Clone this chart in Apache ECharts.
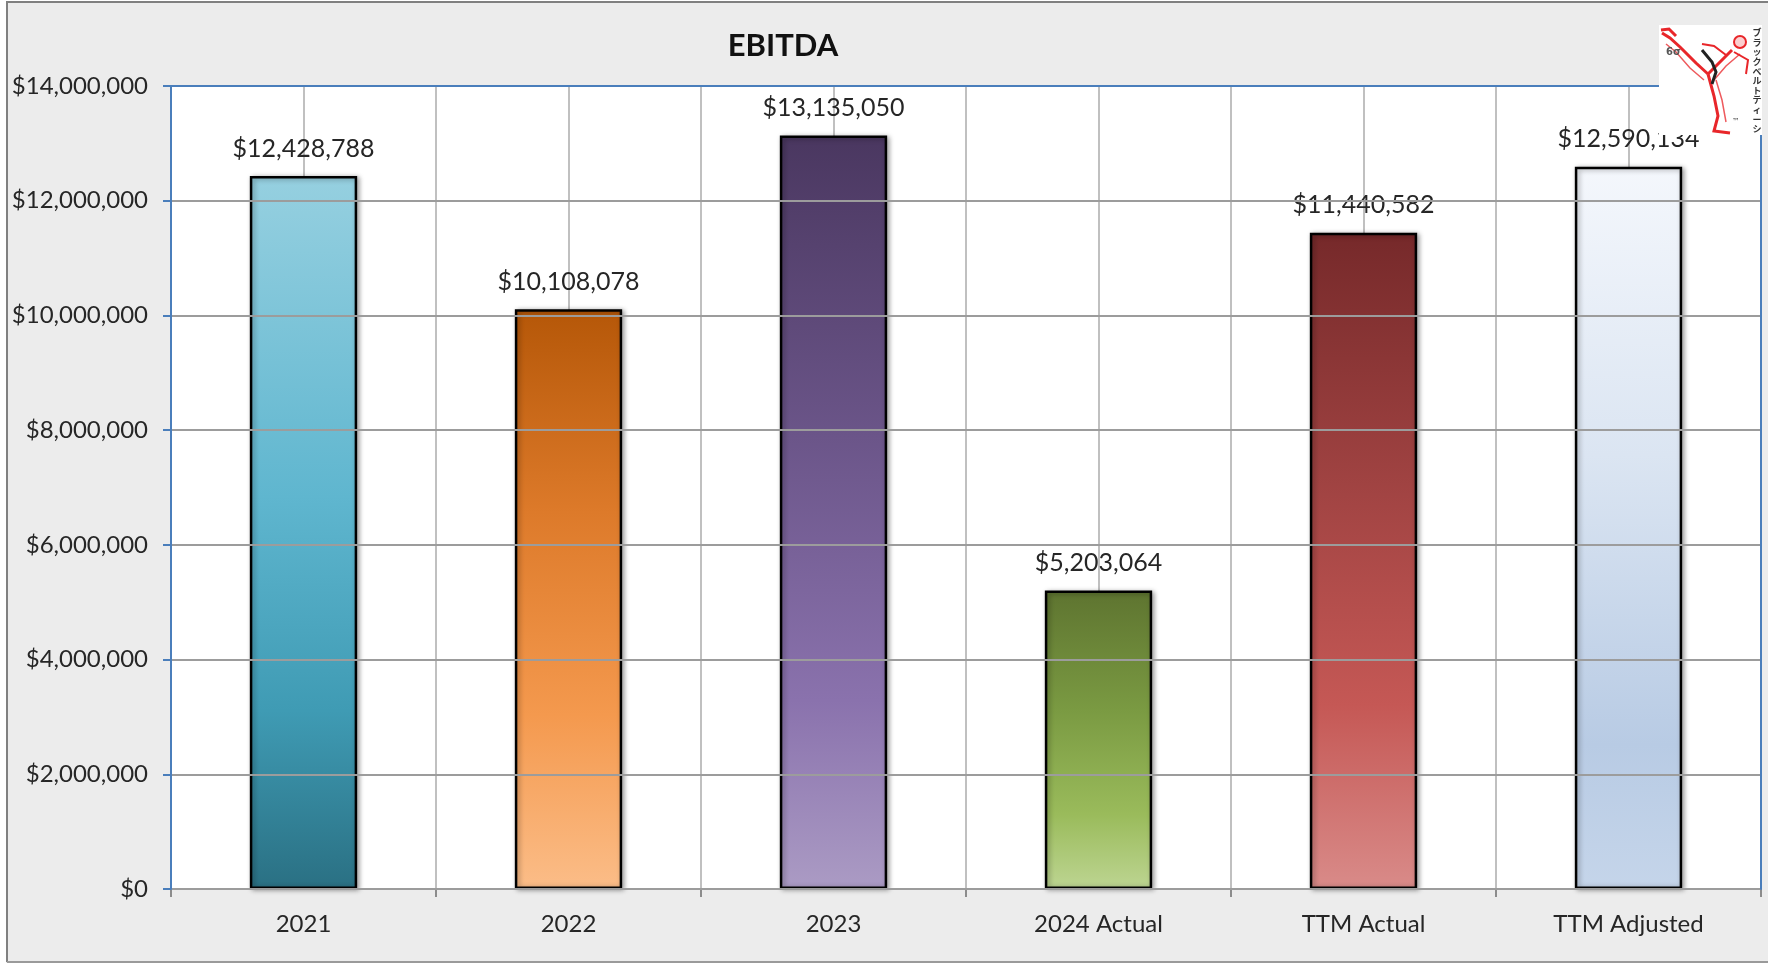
<!DOCTYPE html>
<html>
<head>
<meta charset="utf-8">
<script src="https://cdn.jsdelivr.net/npm/echarts@6/dist/echarts.min.js"></script>
<style>
html,body{margin:0;padding:0;background:#fff;}
#chart{width:1768px;height:966px;}
</style>
</head>
<body>
<div id="chart"></div>
<script>
// ---- data ----
const categories = ['2021', '2022', '2023', '2024 Actual', 'TTM Actual', 'TTM Adjusted'];
const ebitda = [12428788, 10108078, 13135050, 5203064, 11440582, 12590134];
const yMin = 0;
const yMax = 14000000;
const yStep = 2000000;
const chartTitle = 'EBITDA';
const logoText = 'ブラックベルトティーシ';

// ---- styles ----
const barGradients = [
  [['#96d0e0', 0], ['#5fb6cf', 0.45], ['#3f9bb4', 0.75], ['#2a7083', 1]],
  [['#b55708', 0], ['#dd7a2a', 0.35], ['#f4994e', 0.7], ['#fbbd88', 1]],
  [['#4a3760', 0], ['#6b5589', 0.4], ['#8a72ad', 0.75], ['#ab9bc4', 1]],
  [['#5e7430', 0], ['#7a9a42', 0.4], ['#9abb5b', 0.75], ['#bdd592', 1]],
  [['#76292a', 0], ['#a24443', 0.4], ['#c55855', 0.72], ['#d98b89', 1]],
  [['#f4f7fc', 0], ['#dbe5f2', 0.4], ['#b8cbe4', 0.8], ['#c5d5ea', 1]]
];
const FONT = 'Lato, "Open Sans", sans-serif';
const TEXT = '#262626';

function money(v) { return '$' + Math.round(v).toLocaleString('en-US'); }

const barData = ebitda.map((v, i) => ({
  value: v,
  itemStyle: {
    color: {
      type: 'linear', x: 0, y: 0, x2: 0, y2: 1,
      colorStops: barGradients[i].map(s => ({ color: s[0], offset: s[1] }))
    }
  }
}));

const chart = echarts.init(document.getElementById('chart'), null, { renderer: 'canvas' });

const katakana = logoText.split('').join('\n');

chart.setOption({
  animation: false,
  backgroundColor: '#ececec',
  title: {
    text: chartTitle,
    left: 778, top: 41,
    textAlign: 'center', textVerticalAlign: 'middle',
    textStyle: { fontFamily: FONT, fontWeight: 'bold', fontSize: 31, color: '#111' }
  },
  grid: {
    left: 171, right: 7, top: 86, bottom: 77,
    show: true, backgroundColor: '#ffffff',
    borderColor: '#4a7ebb', borderWidth: 2,
    containLabel: false
  },
  xAxis: [
    {
      type: 'category', data: categories, position: 'bottom', z: 4,
      axisLine: { show: true, lineStyle: { color: '#8c8c8c', width: 2 } },
      axisTick: { show: true, length: 8, lineStyle: { color: '#8c8c8c', width: 2 } },
      axisLabel: { margin: 23, fontFamily: FONT, fontSize: 24, color: TEXT },
      splitLine: { show: false }
    },
    {
      type: 'value', min: 0, max: categories.length, interval: 0.5, position: 'bottom', z: 1,
      axisLine: { show: false }, axisTick: { show: false }, axisLabel: { show: false },
      splitLine: { show: true, lineStyle: { color: '#c0c0c0', width: 2 } }
    },
    {
      type: 'category', data: categories, position: 'top', z: 5,
      axisLine: { show: true, lineStyle: { color: '#4a7ebb', width: 2 } },
      axisTick: { show: false }, axisLabel: { show: false }, splitLine: { show: false }
    }
  ],
  yAxis: [
    {
      type: 'value', min: yMin, max: yMax, interval: yStep, position: 'left', z: 5,
      axisLine: { show: true, lineStyle: { color: '#4a7ebb', width: 2 } },
      axisTick: { show: true, length: 8, lineStyle: { color: '#4a7ebb', width: 2 } },
      axisLabel: { margin: 23, fontFamily: FONT, fontSize: 24, color: TEXT, formatter: money },
      splitLine: { show: true, lineStyle: { color: '#9c9c9c', width: 2 } }
    },
    {
      type: 'value', min: yMin, max: yMax, interval: yStep, position: 'right', z: 5,
      axisLine: { show: true, lineStyle: { color: '#4a7ebb', width: 2 } },
      axisTick: { show: false }, axisLabel: { show: false }, splitLine: { show: false }
    }
  ],
  series: [{
    type: 'bar',
    xAxisIndex: 0, yAxisIndex: 0,
    data: barData,
    barWidth: '40.5%',
    z: 3,
    itemStyle: {
      borderColor: '#000', borderWidth: 2.5,
      shadowColor: 'rgba(0,0,0,0.35)', shadowBlur: 5, shadowOffsetX: 2, shadowOffsetY: 1
    },
    label: {
      show: true, position: 'top', distance: 15,
      fontFamily: FONT, fontSize: 25, color: TEXT,
      formatter: p => money(p.value)
    }
  }],
  graphic: [
    // outer frame strips
    { type: 'rect', z: 100, shape: { x: 0, y: 0, width: 6, height: 966 }, style: { fill: '#ffffff' } },
    { type: 'rect', z: 100, shape: { x: 0, y: 0, width: 1768, height: 1 }, style: { fill: '#ffffff' } },
    { type: 'rect', z: 100, shape: { x: 0, y: 963, width: 1768, height: 3 }, style: { fill: '#ffffff' } },
    { type: 'polyline', z: 100, shape: { points: [[7, 962], [7, 2], [1768, 2]] }, style: { stroke: '#808080', lineWidth: 2, fill: null } },
    { type: 'line', z: 100, shape: { x1: 7, y1: 962, x2: 1768, y2: 962 }, style: { stroke: '#9a9a9a', lineWidth: 2 } },
    // logo
    { type: 'rect', z: 110, shape: { x: 1659, y: 25, width: 103, height: 110 }, style: { fill: '#ffffff' } },
    { type: 'polyline', z: 111, shape: { points: [[1662, 33], [1670, 38], [1680, 47], [1696, 63], [1708, 74]] }, style: { stroke: '#e8262a', lineWidth: 3, fill: null } },
    { type: 'polyline', z: 111, shape: { points: [[1666, 44], [1676, 52], [1690, 68], [1704, 80]] }, style: { stroke: '#ee5a5d', lineWidth: 1.5, fill: null } },
    { type: 'polyline', z: 111, shape: { points: [[1661, 30], [1669, 29], [1676, 36]] }, style: { stroke: '#e8262a', lineWidth: 3, fill: null } },
    { type: 'polyline', z: 111, shape: { points: [[1708, 74], [1720, 62], [1732, 50]] }, style: { stroke: '#e8262a', lineWidth: 3, fill: null } },
    { type: 'polyline', z: 111, shape: { points: [[1714, 80], [1726, 66], [1740, 54]] }, style: { stroke: '#ee5a5d', lineWidth: 1.5, fill: null } },
    { type: 'circle', z: 111, shape: { cx: 1740, cy: 42, r: 6 }, style: { fill: '#fbd0d0', stroke: '#e8262a', lineWidth: 2 } },
    { type: 'polyline', z: 111, shape: { points: [[1734, 52], [1748, 60], [1746, 74]] }, style: { stroke: '#e8262a', lineWidth: 2, fill: null } },
    { type: 'polyline', z: 111, shape: { points: [[1726, 55], [1714, 46], [1702, 44]] }, style: { stroke: '#e8262a', lineWidth: 2, fill: null } },
    { type: 'polyline', z: 111, shape: { points: [[1708, 74], [1714, 96], [1718, 116], [1714, 131], [1730, 133]] }, style: { stroke: '#e8262a', lineWidth: 3, fill: null } },
    { type: 'polyline', z: 111, shape: { points: [[1716, 80], [1722, 100], [1726, 122]] }, style: { stroke: '#ee5a5d', lineWidth: 1.5, fill: null } },
    { type: 'polyline', z: 112, shape: { points: [[1702, 50], [1712, 62], [1716, 72], [1712, 84]] }, style: { stroke: '#222222', lineWidth: 3, fill: null } },
    { type: 'text', z: 112, style: { text: '6σ', x: 1666, y: 47, fill: '#555555', font: 'bold 10px "DejaVu Sans", sans-serif' } },
    { type: 'text', z: 112, style: { text: '™', x: 1732, y: 118, fill: '#555555', font: '8px "DejaVu Sans", sans-serif' } },
    { type: 'text', z: 112, style: { text: katakana, x: 1757, y: 28, fill: '#333333', align: 'center', font: 'bold 9px "Noto Sans CJK JP", sans-serif', lineHeight: 9.6 } }
  ]
});
</script>
</body>
</html>
